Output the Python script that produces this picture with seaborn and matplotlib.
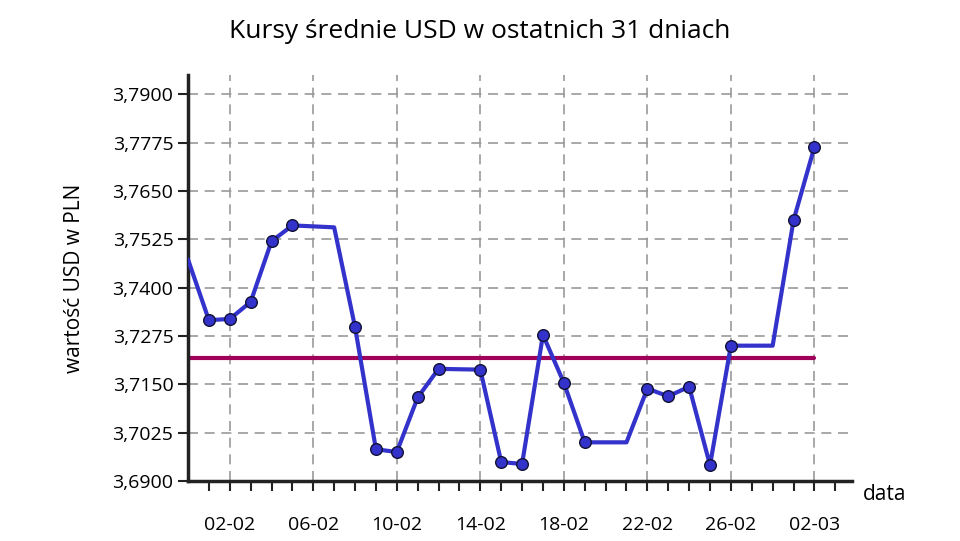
import matplotlib
matplotlib.use("Agg")
import matplotlib.pyplot as plt
import seaborn as sns
import pandas as pd
import numpy as np

# day index: 0 = 31-01, 1 = 01-02, ... 30 = 02-03
DAYS = [0, 1, 2, 3, 4, 5, 7, 8, 9, 10, 11, 12, 14, 15, 16, 17, 18, 19, 21, 22, 23, 24, 25, 26, 28, 29, 30]
RATES = [3.7473, 3.7316, 3.7319, 3.7363, 3.7520, 3.7561, 3.7556, 3.7298, 3.6982, 3.6975,
         3.7116, 3.7190, 3.7188, 3.6949, 3.6944, 3.7278, 3.7154, 3.7000, 3.7000, 3.7139,
         3.7119, 3.7144, 3.6941, 3.7250, 3.7250, 3.7574, 3.7764]
MARKED = [False, True, True, True, True, True, False, True, True, True, True, True, True, True,
          True, True, True, True, False, True, True, True, True, True, False, True, True]
MEAN = 3.7219
XTICKS = [2, 6, 10, 14, 18, 22, 26, 30]
XLABELS = ["02-02", "06-02", "10-02", "14-02", "18-02", "22-02", "26-02", "02-03"]
YTICKS = [3.69, 3.7025, 3.715, 3.7275, 3.74, 3.7525, 3.765, 3.7775, 3.79]

df = pd.DataFrame({"day": DAYS, "rate": RATES, "marked": MARKED})

sns.set_style("white")
plt.rcParams['font.family'] = ['Open Sans', 'DejaVu Sans']
plt.rcParams['text.color'] = "black"
plt.rcParams['axes.labelcolor'] = "black"
plt.rcParams['xtick.color'] = "black"
plt.rcParams['ytick.color'] = "black"
fig = plt.figure(figsize=(9.6, 5.41), dpi=100)
ax = fig.add_axes([188/960, 1-481/541, (852-188)/960, (481-75)/541])

sns.lineplot(data=df, x="day", y="rate", color="#3333cc", linewidth=3, ax=ax, zorder=3)
sns.scatterplot(data=df[df.marked], x="day", y="rate", color="#3333cc", edgecolor="#111133",
                s=70, linewidth=1, ax=ax, zorder=4)
ax.plot([0, 30], [MEAN, MEAN], color="#a0005a", linewidth=3, zorder=2)

ax.set_xlim(0, 31.8)
ax.set_ylim(3.69, 3.7950)
ax.set_xticks(range(1, 32), minor=True)
ax.set_xticks(XTICKS)
ax.set_xticklabels(XLABELS, fontsize=14)
ax.set_yticks(YTICKS)
ax.set_yticklabels([f"{v:.4f}".replace(".", ",") for v in YTICKS], fontsize=14)
ax.tick_params(axis="both", which="both", direction="out", length=7, width=1.5, color="#222222", bottom=True, left=True)
ax.tick_params(axis="x", which="major", pad=18)
ax.grid(True, which="major", color="#999999", linestyle=(0, (6, 4)), linewidth=1.2)
for s in ["top", "right"]:
    ax.spines[s].set_visible(False)
for s in ["left", "bottom"]:
    ax.spines[s].set_linewidth(2.5)
    ax.spines[s].set_color("#222222")
ax.set_xlabel("")
ax.set_ylabel("wartość USD w PLN", fontsize=15, labelpad=20)
fig.text(885/960, 1-495/541, "data", fontsize=15, ha="center", va="center")
fig.text(0.5, 1-32/541, "Kursy średnie USD w ostatnich 31 dniach", fontsize=19, ha="center", va="center")

fig.savefig("out.png", dpi=100)
